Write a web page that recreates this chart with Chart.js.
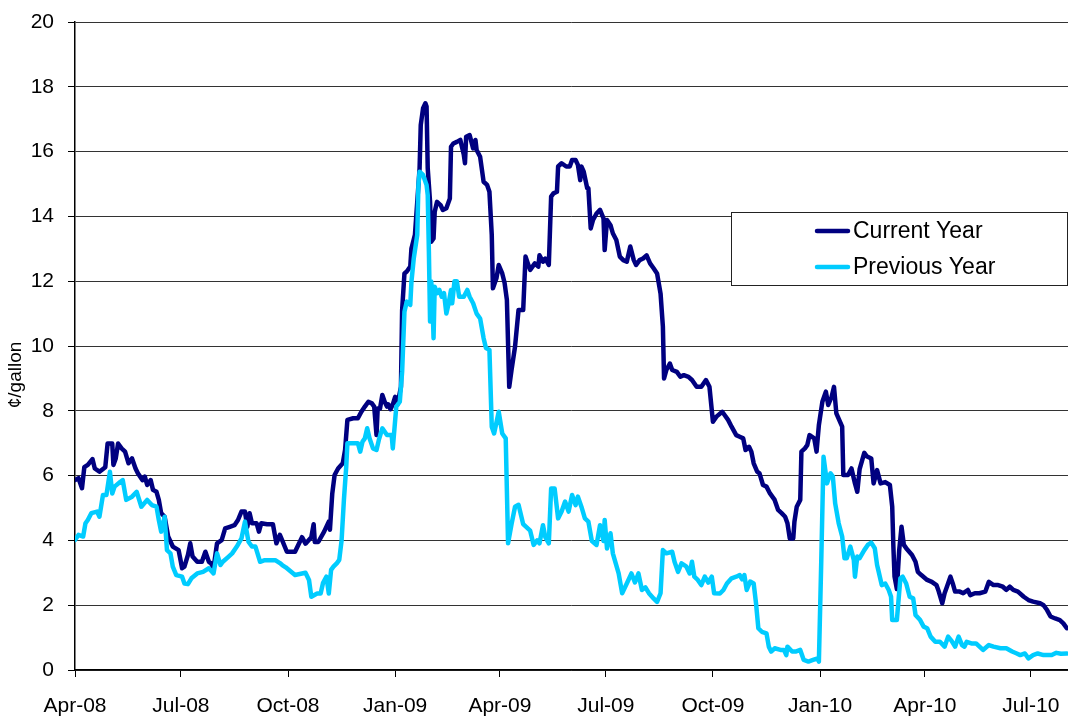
<!DOCTYPE html>
<html><head><meta charset="utf-8">
<script src="https://cdn.jsdelivr.net/npm/chart.js@4/dist/chart.umd.min.js"></script>
<style>html,body{margin:0;padding:0;background:#fff;overflow:hidden}canvas{display:block}</style>
</head><body>
<canvas id="c" width="1068" height="719"></canvas>
<script>
// x values: days since 1 Apr 2008
const quarterDays = [0, 91, 183, 275, 365, 456, 548, 640, 730, 821];
const quarterLabels = ['Apr-08','Jul-08','Oct-08','Jan-09','Apr-09','Jul-09','Oct-09','Jan-10','Apr-10','Jul-10'];
const seriesNames = ['Current Year', 'Previous Year'];
const yAxisTitle = '\u00A2/gallon';

const currentDays = [
0,3,6,8,11,15,17,21,26,28,
32,33,35,37,40,43,46,49,52,54,
58,60,62,65,67,70,72,74,77,80,
84,89,92,94,97,99,101,105,109,112,
115,117,119,122,126,129,133,137,140,143,
146,148,150,152,156,158,160,165,170,173,
176,178,182,189,195,198,203,205,206,209,
214,218,219,221,223,226,230,232,234,239,
243,246,249,252,255,257,259,260,262,264,
266,268,269,271,273,275,277,280,281,283,
285,288,289,292,294,296,297,299,301,302,
303,305,306,308,309,311,314,316,319,322,
323,325,328,331,334,335,336,339,342,344,
345,348,351,354,356,358,359,362,364,367,
369,371,373,375,378,381,385,387,389,391,
395,398,399,402,404,407,409,411,414,415,
418,422,425,427,430,432,434,435,437,440,
441,443,445,448,451,454,455,457,460,462,
465,468,471,474,477,480,482,485,488,491,
494,497,500,503,505,506,508,511,513,517,
520,523,527,530,534,538,542,545,548,551,
556,558,561,564,568,571,574,576,579,581,
583,586,588,591,594,597,601,604,607,610,
612,614,617,618,620,623,624,627,629,631,
635,637,639,642,645,647,650,652,654,659,
660,664,667,670,672,674,678,680,684,686,
689,692,696,700,702,703,704,706,708,710,
712,714,719,722,724,727,732,736,740,742,
745,747,749,752,754,756,760,763,767,769,
773,777,782,785,789,793,797,800,803,806,
810,815,819,823,829,832,835,838,842,846,
849,852];
const currentValues = [
5.86,5.92,5.61,6.26,6.33,6.51,6.22,6.12,6.26,6.99,
6.99,6.33,6.53,6.99,6.84,6.74,6.38,6.53,6.22,6.07,
5.86,5.97,5.71,5.86,5.56,5.5,5.25,4.84,4.73,4.12,
3.81,3.7,3.14,3.19,3.55,3.91,3.5,3.34,3.34,3.65,
3.34,3.29,3.14,3.91,4.01,4.37,4.42,4.47,4.63,4.89,
4.89,4.42,4.84,4.53,4.53,4.27,4.53,4.5,4.5,3.91,
4.17,4.0,3.65,3.65,4.1,3.9,4.1,4.5,3.95,3.95,
4.27,4.58,4.33,5.45,6.02,6.22,6.38,6.79,7.72,7.77,
7.77,7.97,8.13,8.28,8.23,8.13,7.25,8.07,8.07,8.49,
8.28,8.13,8.2,8.05,8.2,8.43,8.2,8.74,11.11,12.24,
12.3,12.45,13.01,13.43,14.45,15.48,16.82,17.34,17.49,17.39,
15.48,14.45,13.22,13.32,14.14,14.45,14.35,14.2,14.25,14.55,
16.15,16.25,16.3,16.36,15.9,15.64,16.46,16.51,16.1,16.36,
16.05,15.84,15.07,14.97,14.76,13.43,11.78,12.09,12.5,12.24,
11.95,11.42,8.74,9.26,9.98,11.11,11.11,12.76,12.55,12.35,
12.55,12.45,12.8,12.6,12.7,12.5,14.61,14.71,14.76,15.54,
15.64,15.54,15.54,15.74,15.74,15.59,15.12,15.54,15.38,14.87,
14.87,13.63,13.89,14.09,14.2,13.94,12.96,13.89,13.73,13.48,
13.27,12.76,12.65,12.6,13.07,12.65,12.5,12.65,12.7,12.8,
12.55,12.4,12.24,11.62,10.6,9.0,9.26,9.46,9.26,9.2,
9.05,9.1,9.05,8.95,8.74,8.74,8.95,8.74,7.66,7.82,
7.97,7.87,7.72,7.51,7.25,7.2,7.15,6.79,6.89,6.74,
6.38,6.12,6.07,5.71,5.66,5.45,5.25,4.94,4.84,4.73,
4.53,4.06,4.06,4.58,5.04,5.25,6.74,6.84,6.94,7.25,
7.15,6.74,7.56,8.28,8.59,8.18,8.44,8.74,7.92,7.51,
6.02,6.02,6.22,5.76,5.5,6.2,6.7,6.6,6.53,5.76,
6.17,5.76,5.8,5.71,5.04,3.81,2.88,2.5,3.7,4.42,
3.86,3.76,3.55,3.34,3.03,2.93,2.78,2.72,2.62,2.42,
2.06,2.37,2.57,2.88,2.67,2.42,2.42,2.37,2.47,2.31,
2.37,2.37,2.42,2.72,2.62,2.62,2.57,2.47,2.57,2.47,
2.42,2.26,2.16,2.11,2.06,2.0,1.85,1.65,1.59,1.54,
1.44,1.29];

const previousDays = [
0,3,7,9,11,14,19,21,24,27,
30,32,34,39,41,44,49,53,57,62,
66,70,72,74,77,79,82,84,87,92,
94,97,100,105,110,115,119,122,125,127,
132,135,139,143,146,149,152,155,159,163,
168,172,176,178,181,189,198,201,203,208,
211,213,216,218,220,222,225,227,229,231,
233,234,238,243,245,247,249,251,253,256,
259,261,264,268,272,273,276,279,281,283,
285,288,289,291,294,295,296,299,302,303,
304,305,306,307,308,309,311,313,315,317,
319,321,323,324,326,328,330,334,337,339,
342,345,348,351,353,356,358,360,364,367,
370,372,375,378,381,385,388,391,394,397,
399,402,404,407,409,412,415,418,421,424,
427,430,432,435,438,441,444,448,451,454,
455,457,460,462,467,470,474,478,481,484,
487,490,493,497,500,503,505,508,513,515,
518,521,525,528,530,532,535,538,541,544,
547,549,554,557,560,564,568,571,573,575,
577,580,583,585,587,590,594,596,598,601,
606,609,611,612,616,619,623,626,630,634,
638,639,641,643,646,649,651,653,656,659,
661,663,666,669,670,672,674,678,681,684,
687,689,690,693,696,699,701,702,706,709,
711,714,717,720,722,726,729,732,735,739,
743,747,750,753,756,759,762,764,766,770,
774,777,780,785,789,795,800,805,809,812,
816,819,823,827,832,836,839,843,847,852];
const previousValues = [
4.01,4.17,4.12,4.53,4.63,4.84,4.89,4.73,5.4,5.4,
6.12,5.45,5.66,5.81,5.86,5.25,5.35,5.5,5.04,5.25,
5.09,5.04,4.63,4.27,4.73,3.7,3.6,3.19,2.93,2.88,
2.67,2.65,2.83,2.98,3.03,3.14,2.98,3.6,3.24,3.34,
3.5,3.6,3.81,4.06,4.58,3.96,3.81,3.81,3.34,3.39,
3.39,3.39,3.3,3.24,3.17,2.93,3.0,2.78,2.26,2.36,
2.36,2.68,2.88,2.36,3.09,3.19,3.3,3.4,4.0,5.25,
6.28,7.0,7.0,7.0,6.74,7.05,7.15,7.46,7.15,6.84,
6.79,7.1,7.46,7.25,7.25,6.84,8.13,8.28,9.2,11.06,
11.37,11.27,11.98,12.7,13.43,14.97,15.38,15.28,14.97,14.66,
12.91,10.76,11.99,11.47,10.24,11.83,11.63,11.73,11.52,11.63,
11.0,11.32,11.73,11.32,12.0,12.0,11.52,11.52,11.73,11.52,
11.32,11.0,10.85,10.24,9.94,9.88,7.51,7.3,7.97,7.3,
7.15,3.91,4.5,5.04,5.1,4.5,4.4,4.3,3.86,4.0,
3.91,4.47,4.1,3.91,5.6,5.6,4.68,4.89,5.2,4.89,
5.4,5.09,5.35,5.04,4.68,4.58,3.98,3.86,4.47,3.98,
4.63,3.75,4.22,3.6,2.98,2.37,2.67,2.98,2.7,2.98,
2.47,2.55,2.37,2.21,2.1,2.37,3.7,3.6,3.65,3.34,
3.03,3.29,3.2,2.98,3.34,2.88,2.78,2.62,2.88,2.7,
2.88,2.37,2.36,2.47,2.67,2.83,2.88,2.93,2.8,2.93,
2.47,2.73,2.67,2.06,1.29,1.18,1.13,0.72,0.57,0.67,
0.62,0.62,0.46,0.72,0.57,0.57,0.62,0.31,0.26,0.31,
0.36,0.26,3.29,6.58,5.76,6.07,5.97,5.14,4.53,4.12,
3.45,3.45,3.81,3.4,2.88,3.5,3.45,3.7,3.86,3.93,
3.76,3.24,3.09,2.62,2.67,2.47,2.26,1.54,1.54,2.83,
2.88,2.67,2.26,2.21,1.7,1.54,1.34,1.29,1.03,0.87,
0.87,0.72,1.03,0.9,0.72,1.03,0.77,0.72,0.87,0.82,
0.82,0.72,0.62,0.77,0.72,0.67,0.67,0.57,0.51,0.46,
0.51,0.36,0.46,0.51,0.46,0.46,0.46,0.53,0.5,0.51];

const FONT = "'Liberation Sans', Arial, Helvetica, sans-serif";
Chart.defaults.font.family = FONT;
Chart.defaults.font.size = 21;
Chart.defaults.color = '#000';

function pts(xs, ys) { return xs.map((x, i) => ({ x: x, y: ys[i] })); }

const boxLegend = {
  id: 'boxLegend',
  afterDatasetsDraw(chart) {
    const ctx = chart.ctx;
    const L = 731.5, T = 212.5, W = 336, H = 73;
    ctx.save();
    ctx.fillStyle = '#fff';
    ctx.fillRect(L, T, W, H);
    ctx.strokeStyle = '#222';
    ctx.lineWidth = 1;
    ctx.strokeRect(L, T, W, H);
    const order = [1, 0];
    ctx.font = '23px ' + FONT;
    ctx.textBaseline = 'middle';
    ctx.textAlign = 'left';
    order.forEach((di, i) => {
      const ds = chart.data.datasets[di];
      const y = 231 + i * 36;
      ctx.strokeStyle = ds.borderColor;
      ctx.lineWidth = 4.5;
      ctx.lineCap = 'round';
      ctx.beginPath();
      ctx.moveTo(817, y);
      ctx.lineTo(848, y);
      ctx.stroke();
      ctx.fillStyle = '#000';
      ctx.fillText(ds.label, 853, y + 1);
    });
    ctx.restore();
  }
};

const yTitle = {
  id: 'yTitle',
  afterDraw(chart) {
    const ctx = chart.ctx;
    ctx.save();
    ctx.translate(16, 375);
    ctx.rotate(-Math.PI / 2);
    ctx.font = '19px ' + FONT;
    ctx.fillStyle = '#000';
    ctx.textAlign = 'center';
    ctx.textBaseline = 'middle';
    ctx.fillText(yAxisTitle, 0, 0);
    ctx.restore();
  }
};

new Chart(document.getElementById('c'), {
  type: 'line',
  data: {
    datasets: [
      { label: seriesNames[1], data: pts(previousDays, previousValues), borderColor: '#00CCFF', order: 0 },
      { label: seriesNames[0], data: pts(currentDays, currentValues), borderColor: '#000080', order: 1 }
    ]
  },
  options: {
    responsive: false,
    animation: false,
    devicePixelRatio: 1,
    layout: { padding: { top: 22, right: 0, left: 0, bottom: 0 } },
    elements: {
      line: { borderWidth: 4.5, tension: 0, borderJoinStyle: 'round', borderCapStyle: 'round', fill: false },
      point: { radius: 0, hoverRadius: 0 }
    },
    plugins: { legend: { display: false }, tooltip: { enabled: false } },
    scales: {
      x: {
        type: 'linear',
        min: 0, max: 853,
        afterBuildTicks: (s) => { s.ticks = quarterDays.map(v => ({ value: v })); },
        afterFit: (s) => { s.height = 49; s.paddingLeft = 0; s.paddingRight = 0; },
        ticks: {
          autoSkip: false, maxRotation: 0, minRotation: 0, padding: 17,
          callback: (v, i) => quarterLabels[i]
        },
        grid: { display: true, drawOnChartArea: false, drawTicks: true, tickLength: 7, tickColor: '#000', tickWidth: 1 },
        border: { display: true, color: '#000', width: 1.5 }
      },
      y: {
        min: 0, max: 20,
        afterFit: (s) => { s.width = 75; s.paddingTop = 0; s.paddingBottom = 0; },
        ticks: { stepSize: 2, padding: 14 },
        grid: { color: '#333', lineWidth: 1, tickLength: 7, tickColor: '#000' },
        border: { display: true, color: '#000', width: 1.5 }
      }
    }
  },
  plugins: [boxLegend, yTitle]
});
</script>
</body></html>
